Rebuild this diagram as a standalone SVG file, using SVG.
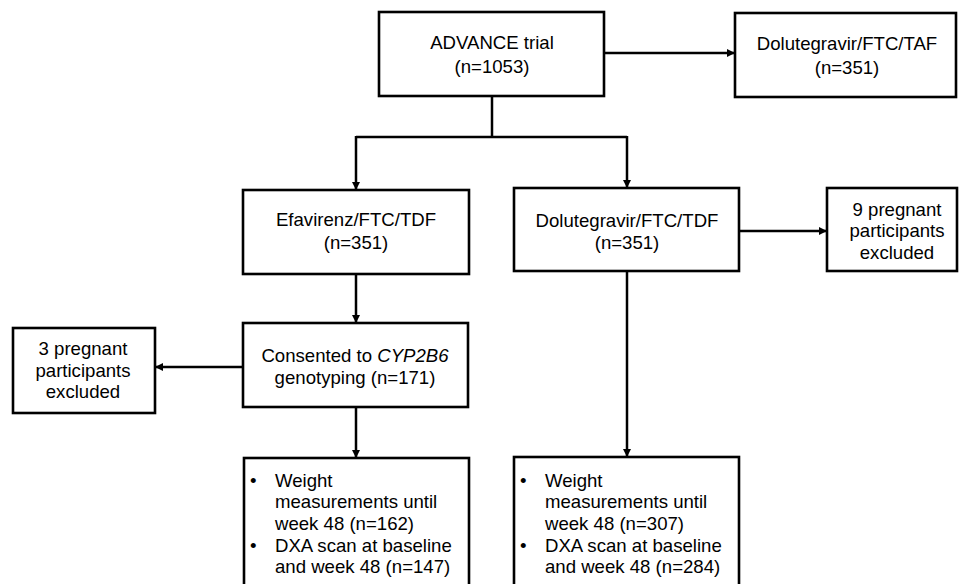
<svg xmlns="http://www.w3.org/2000/svg" width="959" height="584" viewBox="0 0 959 584">
<style>
.box{fill:#fff;stroke:#000;stroke-width:2.6}
.t{font-family:"Liberation Sans",Arial,sans-serif;font-size:18.6px;fill:#000}
.c{text-anchor:middle}
.ln{fill:none;stroke:#000;stroke-width:2.5}
</style>
<defs>
<marker id="ah" markerUnits="userSpaceOnUse" markerWidth="9" markerHeight="9" refX="8" refY="4" orient="auto">
<path d="M0,0 L8,4 L0,8 z" fill="#000"/>
</marker>
</defs>
<rect width="959" height="584" fill="#fff"/>
<g id="connectors">
<path class="ln" d="M604,53 H735" marker-end="url(#ah)"/>
<path class="ln" d="M492,96 V137"/>
<path class="ln" d="M356,137 H627"/>
<path class="ln" d="M356,136 V190" marker-end="url(#ah)"/>
<path class="ln" d="M627,136 V188" marker-end="url(#ah)"/>
<path class="ln" d="M356,274 V323" marker-end="url(#ah)"/>
<path class="ln" d="M739,231 H827" marker-end="url(#ah)"/>
<path class="ln" d="M243,367 H155" marker-end="url(#ah)"/>
<path class="ln" d="M356,407 V458" marker-end="url(#ah)"/>
<path class="ln" d="M627,271 V457" marker-end="url(#ah)"/>
</g>
<g id="advance">
<rect class="box" x="379" y="12" width="225" height="84"/>
<text class="t c" x="492" y="49">ADVANCE trial</text>
<text class="t c" x="492" y="73">(n=1053)</text>
</g>
<g id="dtg-taf">
<rect class="box" x="735" y="13" width="221" height="84"/>
<text class="t c" x="847" y="50">Dolutegravir/FTC/TAF</text>
<text class="t c" x="847" y="74">(n=351)</text>
</g>
<g id="efv">
<rect class="box" x="243" y="190" width="226" height="84"/>
<text class="t c" x="356" y="226">Efavirenz/FTC/TDF</text>
<text class="t c" x="356" y="249">(n=351)</text>
</g>
<g id="dtg-tdf">
<rect class="box" x="514" y="188" width="225" height="83"/>
<text class="t c" x="627" y="227">Dolutegravir/FTC/TDF</text>
<text class="t c" x="627" y="249">(n=351)</text>
</g>
<g id="excl9">
<rect class="box" x="827" y="188" width="130" height="83"/>
<text class="t c" x="897" y="216">9 pregnant</text>
<text class="t c" x="897" y="237">participants</text>
<text class="t c" x="897" y="259">excluded</text>
</g>
<g id="cyp">
<rect class="box" x="243" y="323" width="225" height="84"/>
<text class="t c" x="355" y="362">Consented to <tspan font-style="italic">CYP2B6</tspan></text>
<text class="t c" x="355" y="384">genotyping (n=171)</text>
</g>
<g id="excl3">
<rect class="box" x="13" y="328" width="142" height="85"/>
<text class="t c" x="83" y="355">3 pregnant</text>
<text class="t c" x="83" y="377">participants</text>
<text class="t c" x="83" y="398">excluded</text>
</g>
<g id="efv-out">
<rect class="box" x="244" y="458" width="225" height="140"/>
<text class="t" x="250" y="487">•</text>
<text class="t" x="275" y="487">Weight</text>
<text class="t" x="275" y="508">measurements until</text>
<text class="t" x="275" y="530">week 48 (n=162)</text>
<text class="t" x="250" y="552">•</text>
<text class="t" x="275" y="552">DXA scan at baseline</text>
<text class="t" x="275" y="573">and week 48 (n=147)</text>
</g>
<g id="dtg-out">
<rect class="box" x="514" y="457" width="225" height="140"/>
<text class="t" x="520" y="487">•</text>
<text class="t" x="545" y="487">Weight</text>
<text class="t" x="545" y="508">measurements until</text>
<text class="t" x="545" y="530">week 48 (n=307)</text>
<text class="t" x="520" y="552">•</text>
<text class="t" x="545" y="552">DXA scan at baseline</text>
<text class="t" x="545" y="573">and week 48 (n=284)</text>
</g>
</svg>
